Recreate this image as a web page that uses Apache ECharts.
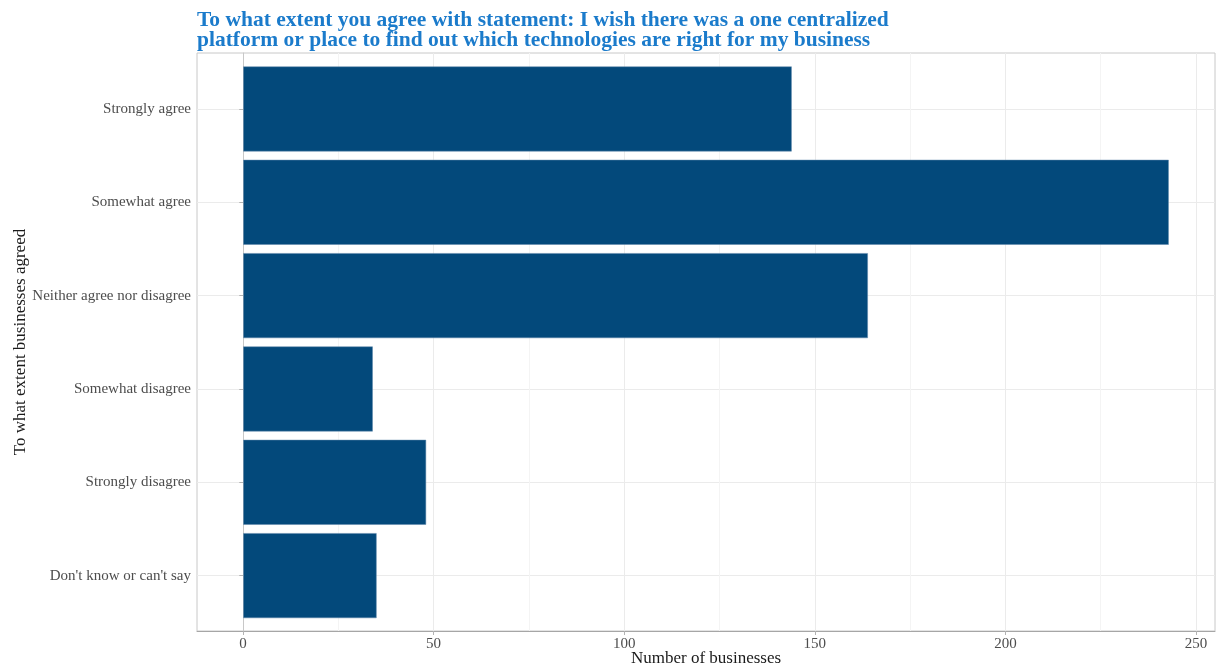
<!DOCTYPE html>
<html>
<head>
<meta charset="utf-8">
<script src="https://cdn.jsdelivr.net/npm/echarts@6/dist/echarts.min.js"></script>
<style>
  html, body { margin: 0; padding: 0; background: #fff; }
  #chart { width: 1221px; height: 669px; }
</style>
</head>
<body>
<div id="chart"></div>
<script>
const categories = [
  'Strongly agree',
  'Somewhat agree',
  'Neither agree nor disagree',
  'Somewhat disagree',
  'Strongly disagree',
  "Don't know or can't say"
];
const counts = [144, 243, 164, 34, 48, 35];

const titleText = 'To what extent you agree with statement: I wish there was a one centralized\nplatform or place to find out which technologies are right for my business';
const xName = 'Number of businesses';
const yName = 'To what extent businesses agreed';

// ggplot style 5% expansion around 0..max
const xMin = -12.15;
const xMax = 255.15;

const serif = '"Liberation Serif", "DejaVu Serif", serif';

const chart = echarts.init(document.getElementById('chart'));

const option = {
  animation: false,
  backgroundColor: '#fff',
  title: {
    text: titleText,
    left: 192,
    top: 5,
    textStyle: {
      fontFamily: serif,
      fontWeight: 'bold',
      fontSize: 21.5,
      lineHeight: 20,
      color: '#1b7bcb'
    }
  },
  grid: [
    // panel for x gridlines + ticks
    { left: 243, right: 25, top: 53, bottom: 38, outerBoundsMode: 'none' },
    // bars
    { left: 197, right: 6, top: 62.3, height: 560, outerBoundsMode: 'none' },
    // panel border + axis titles
    { left: 197, right: 6, top: 53, bottom: 38, outerBoundsMode: 'none', show: true, borderColor: '#c8c8c8', borderWidth: 1, backgroundColor: 'transparent' }
  ],
  xAxis: [
    {
      gridIndex: 0,
      type: 'value',
      min: 0,
      max: 250,
      interval: 50,
      axisLine: { show: false },
      axisTick: { show: true, length: 4, lineStyle: { color: '#b3b3b3' } },
      axisLabel: { margin: 6, color: '#4d4d4d', fontFamily: serif, fontSize: 15 },
      splitLine: { show: true, lineStyle: { color: '#ebebeb', width: 1 } },
      minorTick: { show: false, splitNumber: 2 },
      minorSplitLine: { show: true, lineStyle: { color: '#f4f4f4', width: 1 } }
    },
    {
      gridIndex: 1,
      type: 'value',
      min: xMin,
      max: xMax,
      show: false
    },
    {
      gridIndex: 2,
      type: 'value',
      min: xMin,
      max: xMax,
      name: xName,
      nameLocation: 'middle',
      nameGap: 19,
      nameTextStyle: { fontFamily: serif, fontSize: 17, color: '#1a1a1a' },
      axisLine: { show: true, lineStyle: { color: '#a6a6a6' } },
      axisTick: { show: false },
      axisLabel: { show: false },
      splitLine: { show: false }
    }
  ],
  yAxis: [
    {
      gridIndex: 0,
      type: 'value',
      show: false
    },
    {
      gridIndex: 1,
      type: 'category',
      data: categories,
      inverse: true,
      axisLine: { show: false },
      axisTick: { show: true, alignWithLabel: true, length: 4, lineStyle: { color: '#b3b3b3' } },
      axisLabel: { margin: 6, color: '#4d4d4d', fontFamily: serif, fontSize: 15, verticalAlign: 'middle', lineHeight: 19, padding: [3, 0, 0, 0] },
      splitLine: { show: true, alignWithLabel: true, lineStyle: { color: '#ebebeb', width: 1 } }
    },
    {
      gridIndex: 2,
      type: 'value',
      name: yName,
      nameLocation: 'middle',
      nameGap: 168,
      nameRotate: 90,
      nameTextStyle: { fontFamily: serif, fontSize: 17, color: '#1a1a1a' },
      axisLine: { show: true, lineStyle: { color: '#c8c8c8' } },
      axisTick: { show: false },
      axisLabel: { show: false },
      splitLine: { show: false }
    }
  ],
  series: [
    {
      type: 'bar',
      xAxisIndex: 1,
      yAxisIndex: 1,
      data: counts,
      barCategoryGap: '9%',
      itemStyle: { color: '#03497b', borderColor: '#5f86aa', borderWidth: 0.5 }
    }
  ]
};

chart.setOption(option);
</script>
</body>
</html>
